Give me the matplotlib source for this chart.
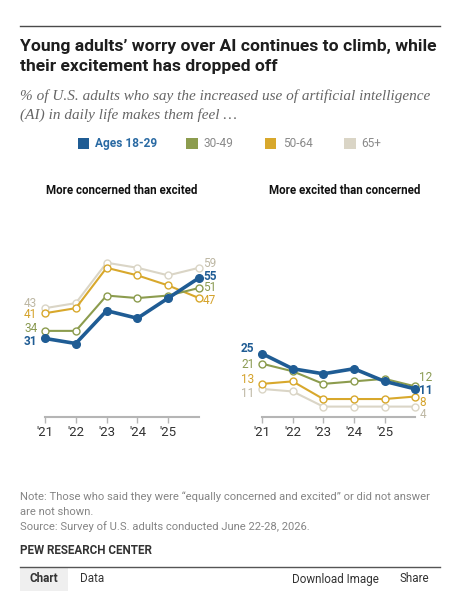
import matplotlib
matplotlib.use("Agg")
import matplotlib.pyplot as plt
from matplotlib.patches import Rectangle
from matplotlib.lines import Line2D

# ---- data ----
years = [2021, 2022, 2023, 2024, 2025, 2026]
tick_years = [2021, 2022, 2023, 2024, 2025]
tick_labels = ["'21", "'22", "'23", "'24", "'25"]

groups = ["18-29", "30-49", "50-64", "65+"]
legend_labels = ["Ages 18-29", "30-49", "50-64", "65+"]

concerned_18_29 = [31, 29, 42, 39, 47, 55]
concerned_30_49 = [34, 34, 48, 47, 48, 51]
concerned_50_64 = [41, 43, 59, 56, 52, 47]
concerned_65 = [43, 45, 61, 59, 56, 59]

excited_18_29 = [25, 19, 17, 19, 14, 11]
excited_30_49 = [21, 18, 13, 14, 15, 12]
excited_50_64 = [13, 14, 7, 7, 7, 8]
excited_65 = [11, 10, 4, 4, 4, 4]

concerned = [concerned_18_29, concerned_30_49, concerned_50_64, concerned_65]
excited = [excited_18_29, excited_30_49, excited_50_64, excited_65]

# ---- styles ----
line_colors = ["#1f5c94", "#8c9c4e", "#d8a82c", "#dad5c6"]
text_colors = ["#1f5c94", "#8a9a52", "#d4a22a", "#bdb7a3"]
legend_text_colors = ["#2a6aa3", "#8a8a8a", "#8a8a8a", "#8a8a8a"]

# label nudges (data units) so end labels don't collide
nudge_left_start = [-1.4, 1.0, -0.7, 2.0]
nudge_left_end = [0.7, 0.0, -0.8, 1.8]
nudge_right_start = [2.2, -0.2, 1.8, -2.0]
nudge_right_end = [-0.6, 3.4, -2.5, -3.2]

W, H = 466, 612
fig = plt.figure(figsize=(W / 100, H / 100), dpi=100)
fig.patch.set_facecolor("white")

def fx(x):
    return x / W

def fy(y):
    return 1 - y / H

sans = ["Roboto", "DejaVu Sans"]
serif = ["Liberation Serif", "DejaVu Serif"]

# top rule
fig.add_artist(Line2D([fx(20), fx(440)], [fy(26), fy(26)], color="#4a4a4a", lw=1.0))

fig.text(fx(20), fy(47), "Young adults\u2019 worry over AI continues to climb, while",
         fontsize=12.6, fontweight="bold", family=sans, color="#1e1e1e", va="center")
fig.text(fx(20), fy(67), "their excitement has dropped off",
         fontsize=12.6, fontweight="bold", family=sans, color="#1e1e1e", va="center")

fig.text(fx(20), fy(96), "% of U.S. adults who say the increased use of artificial intelligence",
         fontsize=11.0, style="italic", family=serif, color="#666666", va="center")
fig.text(fx(20), fy(115), "(AI) in daily life makes them feel \u2026",
         fontsize=11.0, style="italic", family=serif, color="#666666", va="center")

# legend
legend_sq_x = [77.5, 186, 264.7, 344]
legend_txt_x = [95, 204, 282.7, 361]
for i in range(4):
    fig.add_artist(Rectangle((fx(legend_sq_x[i]), fy(149)), 11.5 / W, 11 / H,
                             transform=fig.transFigure, color=line_colors[i], lw=0))
    fig.text(fx(legend_txt_x[i]), fy(143.5), legend_labels[i], fontsize=8.6,
             family=sans, color=legend_text_colors[i], va="center",
             fontweight="bold" if i == 0 else "normal")

# panels
y_zero = 416.7
px_per_unit = 2.524
ymax = 80
ax_h = ymax * px_per_unit / H
ax_left = fig.add_axes([fx(45), fy(y_zero), 154 / W, ax_h])
ax_right = fig.add_axes([fx(262), fy(y_zero), 153.3 / W, ax_h])

panels = [
    (ax_left, concerned, nudge_left_start, nudge_left_end),
    (ax_right, excited, nudge_right_start, nudge_right_end),
]

for ax, data, n_start, n_end in panels:
    ax.set_xlim(years[0], years[-1])
    ax.set_ylim(0, ymax)
    ax.patch.set_alpha(0)
    for s in ["top", "right", "left"]:
        ax.spines[s].set_visible(False)
    ax.spines["bottom"].set_bounds(years[0], years[-1])
    ax.spines["bottom"].set_color("#b5b5b5")
    ax.spines["bottom"].set_linewidth(1.5)
    ax.set_yticks([])
    ax.set_xticks(tick_years)
    ax.set_xticklabels(tick_labels)
    ax.tick_params(axis="x", length=4, width=1, color="#b5b5b5", pad=2.5,
                   labelsize=9.5, labelcolor="#333333")
    for lab in ax.get_xticklabels():
        lab.set_family(sans)

    # draw oldest group first so the 18-29 line sits on top
    for i in reversed(range(4)):
        vals = data[i]
        if i == 0:
            ax.plot(years, vals, color=line_colors[i], lw=2.6, marker="o", ms=5.5,
                    mfc=line_colors[i], mec=line_colors[i], clip_on=False, zorder=10)
        else:
            ax.plot(years, vals, color=line_colors[i], lw=1.5, marker="o", ms=5,
                    mfc="white", mec=line_colors[i], mew=1.0, clip_on=False, zorder=5 - i)
        weight = "bold" if i == 0 else "normal"
        ax.annotate(str(vals[0]), (years[0], vals[0] + n_start[i]), xytext=(-5.5, 0),
                    textcoords="offset points", ha="right", va="center", fontsize=8.5,
                    color=text_colors[i], fontweight=weight, family=sans,
                    annotation_clip=False)
        ax.annotate(str(vals[-1]), (years[-1], vals[-1] + n_end[i]), xytext=(3, 0),
                    textcoords="offset points", ha="left", va="center", fontsize=8.5,
                    color=text_colors[i], fontweight=weight, family=sans,
                    annotation_clip=False)

fig.text(fx(122), fy(191), "More concerned than excited", fontsize=8.3, fontweight="bold",
         family=sans, color="#111111", ha="center", va="center")
fig.text(fx(345), fy(191), "More excited than concerned", fontsize=8.3, fontweight="bold",
         family=sans, color="#111111", ha="center", va="center")

# footer
note_kw = dict(fontsize=8.1, family=sans, color="#858585", va="center")
fig.text(fx(20), fy(497), "Note: Those who said they were \u201cequally concerned and excited\u201d or did not answer", **note_kw)
fig.text(fx(20), fy(512), "are not shown.", **note_kw)
fig.text(fx(20), fy(526.5), "Source: Survey of U.S. adults conducted June 22-28, 2026.", **note_kw)
fig.text(fx(20), fy(550), "PEW RESEARCH CENTER", fontsize=8.4, fontweight="bold",
         family=sans, color="#333333", va="center")

fig.add_artist(Line2D([fx(20), fx(440)], [fy(567), fy(567)], color="#555555", lw=1.0))
fig.add_artist(Rectangle((fx(20), fy(591)), 48 / W, 23.5 / H, transform=fig.transFigure,
                         color="#efefef", lw=0))
tab_kw = dict(fontsize=8.4, family=sans, color="#333333", va="center")
fig.text(fx(30), fy(579), "Chart", fontweight="bold", **tab_kw)
fig.text(fx(80), fy(579), "Data", **tab_kw)
fig.text(fx(291.5), fy(579), "Download Image", **tab_kw)
fig.text(fx(399), fy(579), "Share", **tab_kw)

fig.savefig("out.png", dpi=100)
